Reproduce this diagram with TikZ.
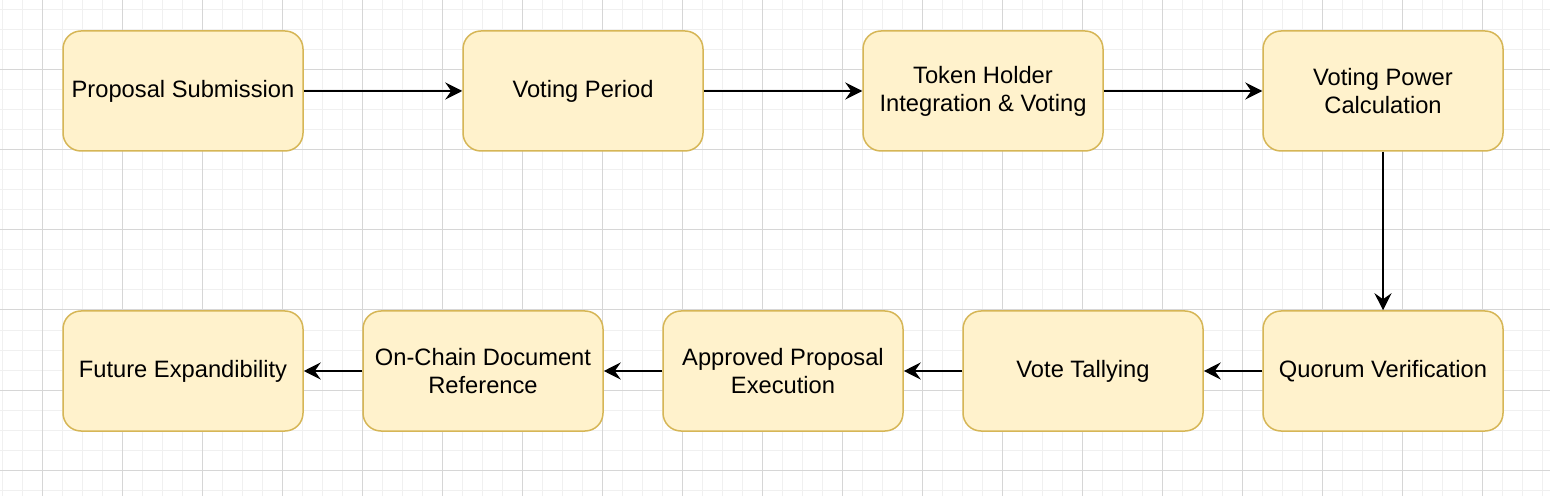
\documentclass[tikz,border=0pt]{standalone}
\usepackage{fontspec}
\setmainfont{Liberation Sans}
\usetikzlibrary{arrows.meta}
\definecolor{boxfill}{HTML}{FFF2CC}
\definecolor{boxline}{HTML}{D6B656}
\definecolor{gridminor}{HTML}{F0F0F0}
\definecolor{gridmajor}{HTML}{D6D6D6}
\begin{document}
\begin{tikzpicture}[
    x=0.5pt, y=-0.5pt,
    stepbox/.style={rectangle, rounded corners=9pt, draw=boxline, fill=boxfill, line width=0.75pt, minimum width=120pt, minimum height=60pt, align=center, font=\fontsize{11.85}{14}\selectfont},
    directed/.style={-{Stealth[length=8.5pt, width=8.5pt, inset=3pt]}, line width=1pt}
]

    % Background grid
    \useasboundingbox (0,0) rectangle (1550,496);
    \fill[white] (0,0) rectangle (1550,496);
    \foreach \x in {2,22,...,1542} \draw[gridminor, line width=0.5pt] (\x,0) -- (\x,496);
    \foreach \y in {10,30,...,490} \draw[gridminor, line width=0.5pt] (0,\y) -- (1550,\y);
    \foreach \x in {42,122,...,1522} \draw[gridmajor, line width=0.5pt] (\x,0) -- (\x,496);
    \foreach \y in {70,150,...,470} \draw[gridmajor, line width=0.5pt] (0,\y) -- (1550,\y);

    % Nodes
    \node[stepbox] (prop) at (183,91) {Proposal Submission};
    \node[stepbox] (period) at (583,91) {Voting Period};
    \node[stepbox] (holder) at (983,91) {Token Holder\\Integration \& Voting};
    \node[stepbox] (power) at (1383,91) {Voting Power\\Calculation};
    \node[stepbox] (quorum) at (1383,371) {Quorum Verification};
    \node[stepbox] (tally) at (1083,371) {Vote Tallying};
    \node[stepbox] (exec) at (783,371) {Approved Proposal\\Execution};
    \node[stepbox] (docref) at (483,371) {On-Chain Document\\Reference};
    \node[stepbox] (future) at (183,371) {Future Expandibility};

    % Arrows
    \draw[directed] (prop) -- (period);
    \draw[directed] (period) -- (holder);
    \draw[directed] (holder) -- (power);
    \draw[directed] (power) -- (quorum);
    \draw[directed] (quorum) -- (tally);
    \draw[directed] (tally) -- (exec);
    \draw[directed] (exec) -- (docref);
    \draw[directed] (docref) -- (future);
\end{tikzpicture}
\end{document}
